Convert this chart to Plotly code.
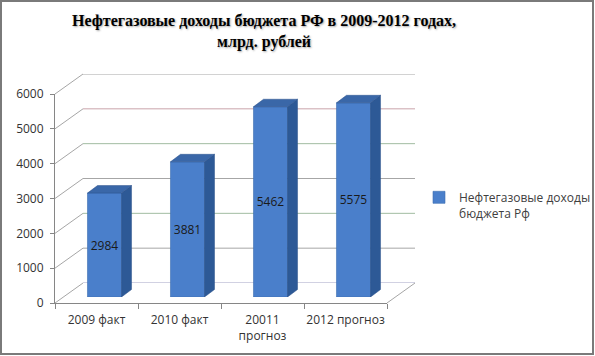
import plotly.graph_objects as go

categories = ["2009 факт", "2010 факт", "20011<br>прогноз", "2012 прогноз"]
values = [2984, 3881, 5462, 5575]
y_ticks = [0, 1000, 2000, 3000, 4000, 5000, 6000]
series_name = "Нефтегазовые доходы<br>бюджета Рф"
title_text = "Нефтегазовые доходы бюджета РФ в 2009-2012 годах,<br>млрд. рублей"

W, H = 595, 356
def X(px): return px / W
def Y(py): return 1 - py / H

# geometry (pixels)
front_l, front_r, front_b, front_t = 55, 387, 303, 94
depth_dx, depth_dy = 28, 20
bar_shift_x, bar_shift_y = 8, 6
bar_w = 0.41
ymax = 6000
band_px = (front_r - front_l) / len(categories)
px_per_val = (front_b - front_t) / ymax
side_dx = 10 / band_px
side_dy = 7.5 / px_per_val

FONT = "Open Sans"
front_col = "#4A7FCB"
side_col = "#2D5996"
top_col = "#3A67A8"

fig = go.Figure()

fig.add_trace(go.Scatter(x=categories, y=[None]*4, xaxis="x", yaxis="y",
                         showlegend=False, hoverinfo="skip"))

xs = list(range(len(categories)))
fig.add_trace(go.Bar(x=xs, y=values, width=bar_w, xaxis="x3", yaxis="y3",
                     name=series_name, marker=dict(color=front_col, line=dict(color="#3C6DB0", width=0.6)),
                     text=[str(v) for v in values], textposition="inside",
                     insidetextanchor="middle", textangle=0,
                     textfont=dict(family=FONT, size=12, color="#1a1a1a")))

for i, v in zip(xs, values):
    xl, xr = i - bar_w / 2, i + bar_w / 2
    fig.add_trace(go.Scatter(
        x=[xr, xr, xr + side_dx, xr + side_dx, xr],
        y=[0, v, v + side_dy, side_dy, 0],
        xaxis="x3", yaxis="y3", mode="lines", fill="toself",
        fillcolor=side_col, line=dict(color="#2A518A", width=0.5),
        showlegend=False, hoverinfo="skip", cliponaxis=False))
    fig.add_trace(go.Scatter(
        x=[xl, xr, xr + side_dx, xl + side_dx, xl],
        y=[v, v, v + side_dy, v + side_dy, v],
        xaxis="x3", yaxis="y3", mode="lines", fill="toself",
        fillcolor=top_col, line=dict(color="#2A518A", width=0.5),
        showlegend=False, hoverinfo="skip", cliponaxis=False))

shapes = []
grid_colors = {0: "#a3a3c4", 1000: "#a6a6a6", 2000: "#a2bca2", 3000: "#a6a6a6",
               4000: "#a2bca2", 5000: "#c9a3ab", 6000: "#a6a6a6"}
for v in y_ticks:
    shapes.append(dict(type="line", xref="x2 domain", yref="y2", x0=0, x1=1, y0=v, y1=v,
                       line=dict(color=grid_colors[v], width=1), layer="below"))
    yf = front_b - v * px_per_val
    shapes.append(dict(type="line", xref="paper", yref="paper",
                       x0=X(front_l), y0=Y(yf), x1=X(front_l + depth_dx), y1=Y(yf - depth_dy),
                       line=dict(color="#a6a6a6", width=1), layer="below"))
shapes.append(dict(type="line", xref="paper", yref="paper",
                   x0=X(front_r), y0=Y(front_b), x1=X(front_r + depth_dx), y1=Y(front_b - depth_dy),
                   line=dict(color="#a6a6a6", width=1), layer="below"))
shapes.append(dict(type="rect", xref="paper", yref="paper",
                   x0=X(1), y0=Y(354), x1=X(593), y1=Y(1),
                   line=dict(color="#7a7a7a", width=2)))

fig.update_layout(
    autosize=True,
    margin=dict(l=0, r=0, t=0, b=0, autoexpand=False),
    paper_bgcolor="white", plot_bgcolor="rgba(0,0,0,0)",
    font=dict(family=FONT, size=12, color="#404040"),
    xaxis=dict(domain=[X(front_l), X(front_r)], anchor="y", type="category",
               categoryorder="array", categoryarray=categories,
               range=[-0.5, len(categories) - 0.5], autorange=False,
               tickson="boundaries", ticks="outside", ticklen=5, tickcolor="#868686",
               showline=True, linecolor="#868686", linewidth=1, showgrid=False,
               ticklabelstandoff=6, tickangle=0,
               tickfont=dict(family=FONT, size=12, color="#333333"), fixedrange=True),
    yaxis=dict(domain=[Y(front_b), Y(front_t)], anchor="x", range=[0, ymax],
               tickvals=y_ticks, ticks="outside", ticklen=4, tickcolor="#868686",
               showline=True, linecolor="#868686", linewidth=1, showgrid=False,
               zeroline=False, tickfont=dict(family=FONT, size=12, color="#333333"),
               ticklabelstandoff=4),
    xaxis2=dict(domain=[X(front_l + depth_dx), X(front_r + depth_dx)], anchor="y2",
                range=[0, 1], visible=False),
    yaxis2=dict(domain=[Y(front_b - depth_dy), Y(front_t - depth_dy)], anchor="x2",
                range=[0, ymax], visible=False),
    xaxis3=dict(domain=[X(front_l + bar_shift_x), X(front_r + bar_shift_x)], anchor="y3",
                range=[-0.5, len(categories) - 0.5], visible=False),
    yaxis3=dict(domain=[Y(front_b - bar_shift_y), Y(front_t - bar_shift_y)], anchor="x3",
                range=[0, ymax], visible=False),
    shapes=shapes,
    showlegend=True,
    legend=dict(x=X(419), y=Y(183), xanchor="left", yanchor="top", valign="top",
                font=dict(family=FONT, size=12, color="#404040"), bgcolor="rgba(0,0,0,0)"),
    annotations=[dict(text="<b>" + title_text + "</b>", xref="paper", yref="paper",
                      x=X(264), y=Y(10), xanchor="center", yanchor="top", showarrow=False,
                      font=dict(family="Liberation Serif, Times New Roman, DejaVu Serif, serif",
                                size=16, color="#000000",
                                shadow="1px 1px 2px rgba(0,0,0,0.35)"))],
)
fig.add_trace(go.Scatter(x=[0], y=[0], xaxis="x2", yaxis="y2", mode="markers",
                         marker=dict(opacity=0), showlegend=False, hoverinfo="skip"))

post = ("document.documentElement.style.margin='0';document.documentElement.style.overflow='hidden';"
        "document.body.style.margin='0';document.body.style.overflow='hidden';"
        "var gd=document.getElementById('{plot_id}');Plotly.Plots.resize(gd);")
fig.write_html("out.html", default_width="100vw", default_height="100vh",
               config={"displayModeBar": False, "responsive": True}, post_script=post)
